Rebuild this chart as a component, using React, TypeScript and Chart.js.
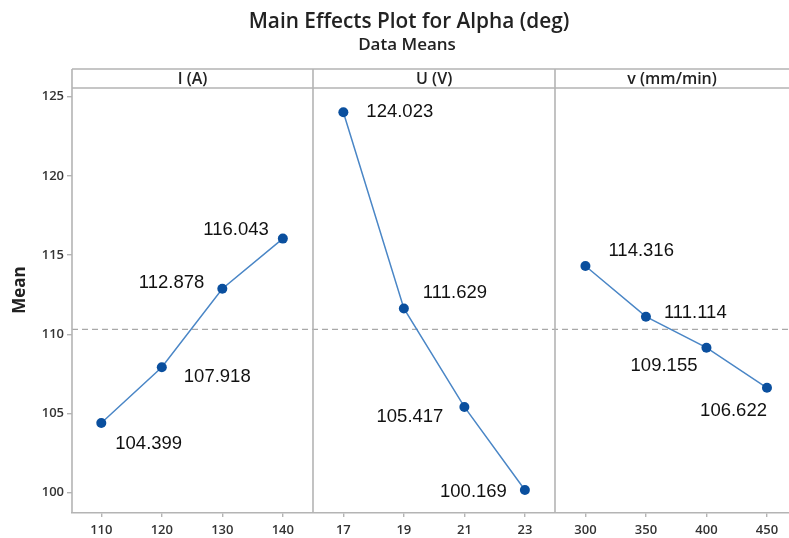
import React, { useEffect, useRef } from "react";
import { Chart, registerables } from "chart.js";

Chart.register(...registerables);

const titleText = "Main Effects Plot for Alpha (deg)";
const subtitleText = "Data Means";
const yAxisTitle = "Mean";
const factorNames = ["I (A)", "U (V)", "v (mm/min)"];
const levelsI = ["110", "120", "130", "140"];
const meansI = [104.399, 107.918, 112.878, 116.043];
const levelsU = ["17", "19", "21", "23"];
const meansU = [124.023, 111.629, 105.417, 100.169];
const levelsV = ["300", "350", "400", "450"];
const meansV = [114.316, 111.114, 109.155, 106.622];
const yTicks = [100, 105, 110, 115, 120, 125];

// label placement: [align, dx, dy]
const labelOffsets: [string, number, number][] = [
  ["left", 14, 21], ["left", 22, 10], ["right", -18, -6], ["right", -14, -9],
  ["left", 23, 0], ["left", 19, -16], ["right", -21, 10], ["right", -18, 2],
  ["left", 23, -15], ["left", 18, -4], ["right", -9, 18], ["right", 0, 23],
];

const UI_FONT = "'Open Sans', 'Noto Sans', sans-serif";
const LINE_GRAY = "#b4b4b4";

export default function App() {
  const ref = useRef<HTMLCanvasElement | null>(null);
  useEffect(() => {
    if (!ref.current) return;
    const allLevels = [...levelsI, ...levelsU, ...levelsV];
    const groups = [meansI, meansU, meansV];
    const allMeans = [...meansI, ...meansU, ...meansV];
    const grandMean = allMeans.reduce((a, b) => a + b, 0) / allMeans.length;
    const xMin = -0.484;
    const xMax = 11.364;
    const lineColor = "#4a86c6";
    const pointColor = "#0a4f9e";
    const datasets: any[] = groups.map((g, gi) => ({
      data: g.map((v, i) => ({ x: gi * 4 + i, y: v })),
      borderColor: lineColor,
      borderWidth: 1.5,
      pointRadius: 5,
      pointBackgroundColor: pointColor,
      pointBorderColor: pointColor,
      pointBorderWidth: 0,
      tension: 0,
      order: 1,
    }));
    datasets.push({
      data: [{ x: xMin, y: grandMean }, { x: xMax, y: grandMean }],
      borderColor: "#a8a8a8",
      borderWidth: 1.3,
      borderDash: [6, 4],
      pointRadius: 0,
      order: 2,
    });

    const panelPlugin = {
      id: "panels",
      afterDraw(chart: any) {
        const { ctx, chartArea } = chart;
        const xs = chart.scales.x;
        const top = chartArea.top;
        const stripTop = top - 19;
        ctx.save();
        ctx.strokeStyle = LINE_GRAY;
        ctx.lineWidth = 1.6;
        ctx.beginPath();
        ctx.moveTo(chartArea.left, stripTop);
        ctx.lineTo(chartArea.right, stripTop);
        ctx.moveTo(chartArea.left, top);
        ctx.lineTo(chartArea.right, top);
        ctx.moveTo(chartArea.left, stripTop);
        ctx.lineTo(chartArea.left, chartArea.bottom);
        [3.5, 7.5].forEach((v) => {
          const px = Math.round(xs.getPixelForValue(v));
          ctx.moveTo(px, stripTop);
          ctx.lineTo(px, chartArea.bottom);
        });
        ctx.stroke();
        ctx.fillStyle = "#222";
        ctx.font = `600 16px ${UI_FONT}`;
        ctx.textAlign = "center";
        ctx.textBaseline = "middle";
        const bounds = [
          [chartArea.left, xs.getPixelForValue(3.5)],
          [xs.getPixelForValue(3.5), xs.getPixelForValue(7.5)],
          [xs.getPixelForValue(7.5), chartArea.right],
        ];
        factorNames.forEach((n, i) => {
          ctx.fillText(n, (bounds[i][0] + bounds[i][1]) / 2, (stripTop + top) / 2 + 1);
        });
        ctx.font = `600 20.8px ${UI_FONT}`;
        ctx.fillText(titleText, 409, 22);
        ctx.font = `600 17px ${UI_FONT}`;
        ctx.fillText(subtitleText, 407, 45);
        ctx.save();
        ctx.translate(20, 290);
        ctx.rotate(-Math.PI / 2);
        ctx.font = `bold 17px ${UI_FONT}`;
        ctx.fillText(yAxisTitle, 0, 0);
        ctx.restore();
        ctx.font = "18.5px 'Liberation Sans', Arial, sans-serif";
        ctx.fillStyle = "#111";
        let k = 0;
        for (let d = 0; d < 3; d++) {
          const meta = chart.getDatasetMeta(d);
          meta.data.forEach((pt: any, i: number) => {
            const [al, dx, dy] = labelOffsets[k];
            ctx.textAlign = al;
            ctx.textBaseline = "middle";
            ctx.fillText(groups[d][i].toFixed(3), pt.x + dx, pt.y + dy);
            k++;
          });
        }
        ctx.restore();
      },
    };

    const chart = new Chart(ref.current, {
      type: "line",
      data: { datasets },
      options: {
        animation: false,
        responsive: true,
        maintainAspectRatio: false,
        layout: { autoPadding: false, padding: { top: 88, left: 0, right: 0, bottom: 0 } },
        plugins: { legend: { display: false }, tooltip: { enabled: false } },
        scales: {
          x: {
            type: "linear",
            min: xMin,
            max: xMax,
            afterBuildTicks: (s: any) => {
              s.ticks = allLevels.map((_, i) => ({ value: i }));
            },
            afterFit: (s: any) => {
              s.height = 25;
              s.paddingLeft = 0;
              s.paddingRight = 0;
            },
            ticks: {
              autoSkip: false,
              maxRotation: 0,
              padding: 5,
              color: "#333",
              font: { family: UI_FONT, size: 13, weight: "600" },
              callback: (v: any) => allLevels[Math.round(Number(v))] ?? "",
            },
            grid: { drawOnChartArea: false, drawTicks: true, tickLength: 4, color: LINE_GRAY, lineWidth: 1.4 },
            border: { display: true, color: LINE_GRAY, width: 1.6 },
          },
          y: {
            min: 98.72,
            max: 125.55,
            afterBuildTicks: (s: any) => {
              s.ticks = yTicks.map((v) => ({ value: v }));
            },
            afterFit: (s: any) => {
              s.width = 72;
              s.paddingTop = 0;
              s.paddingBottom = 0;
            },
            ticks: {
              padding: 3,
              color: "#333",
              font: { family: UI_FONT, size: 13, weight: "600" },
            },
            grid: { drawOnChartArea: false, drawTicks: true, tickLength: 5, color: LINE_GRAY, lineWidth: 1.4 },
            border: { display: false },
          },
        },
      } as any,
      plugins: [panelPlugin],
    });
    return () => chart.destroy();
  }, []);
  return (
    <div style={{ position: "absolute", left: 0, top: 0, width: 789, height: 538, background: "#fff" }}>
      <canvas ref={ref} />
    </div>
  );
}
